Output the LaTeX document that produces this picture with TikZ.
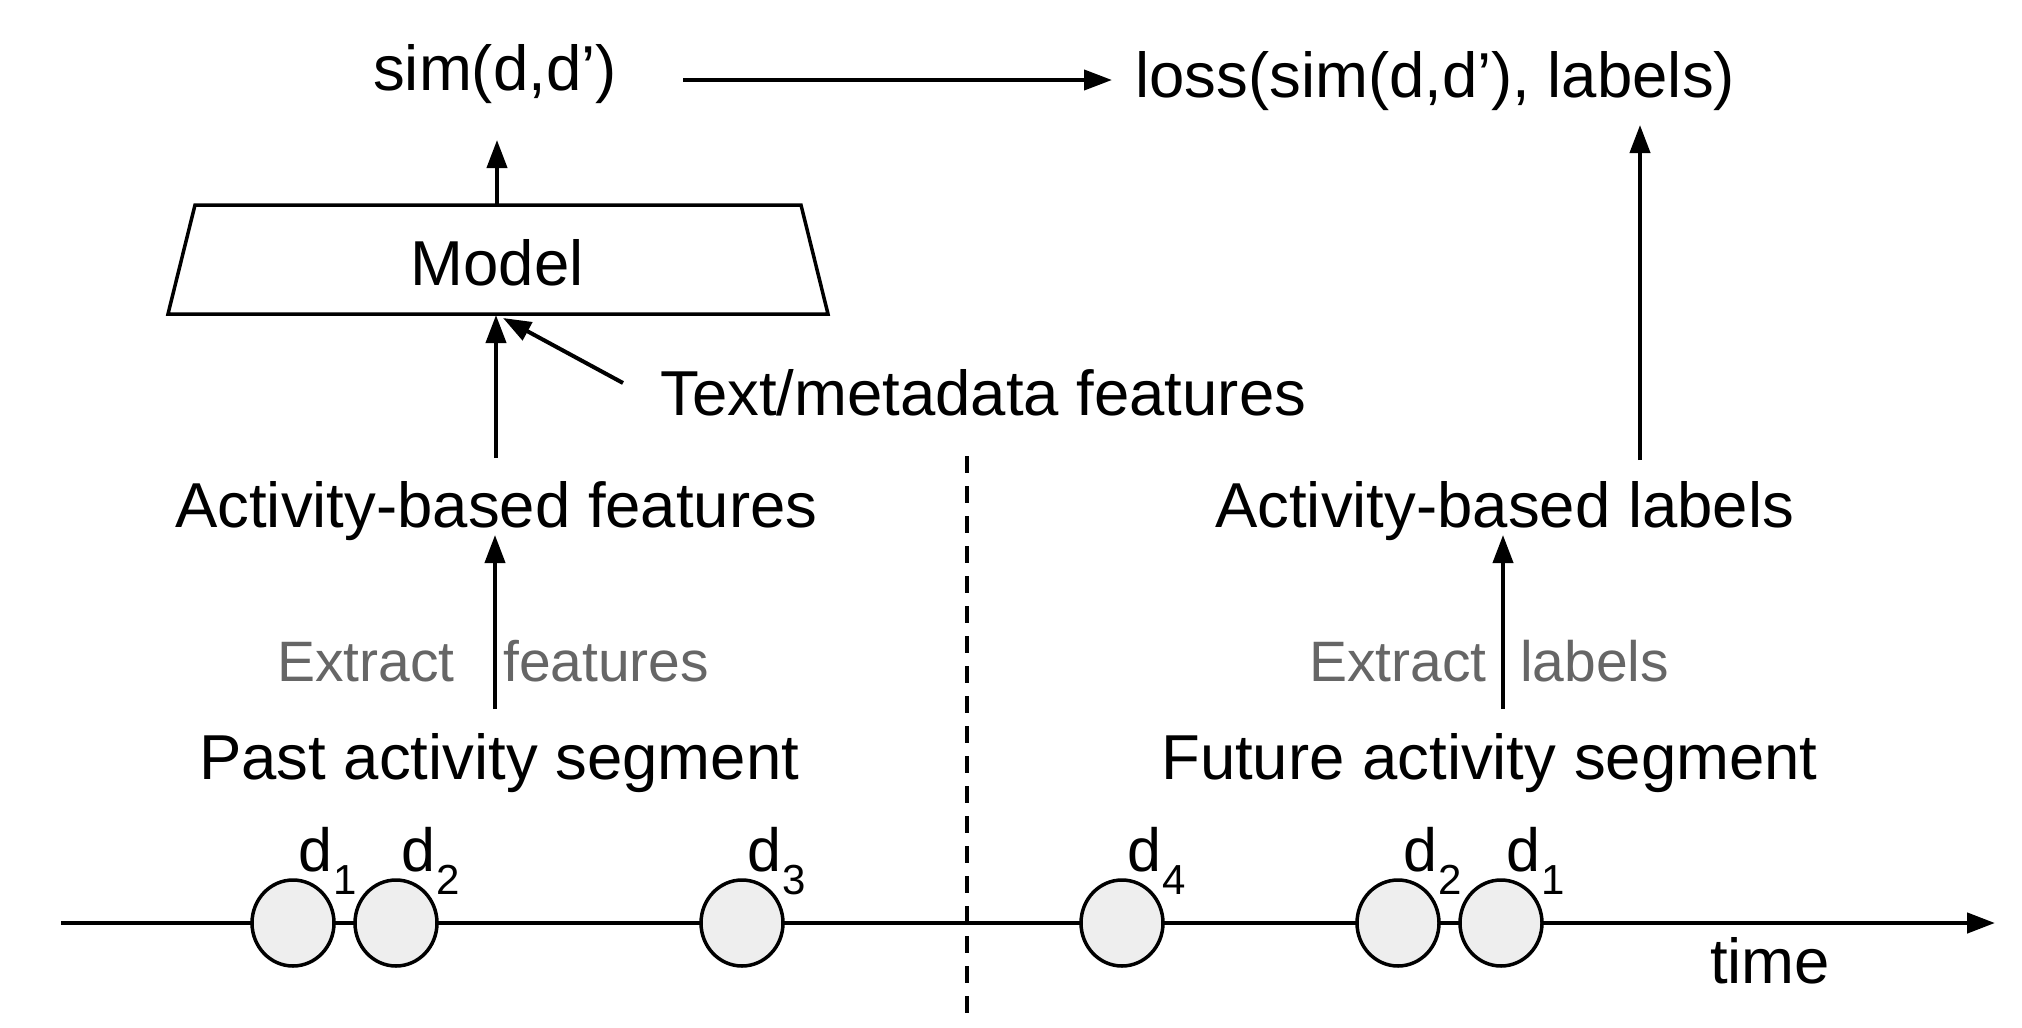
\documentclass[tikz,border=0pt]{standalone}
\usepackage{fontspec}
\setmainfont{Liberation Sans}
\usetikzlibrary{arrows.meta,shapes.geometric}
\definecolor{txtgray}{HTML}{666666}
\definecolor{dotfill}{HTML}{EEEEEE}
\newcommand\bigtxt{\fontsize{63.5}{70}\selectfont}
\newcommand\graytxt{\fontsize{57}{64}\selectfont}
\newcommand\subtxt{\fontsize{42}{46}\selectfont}
\newcommand\dlab[1]{{\fontsize{61}{68}\selectfont d}\kern1pt\raisebox{-23pt}{\subtxt #1}}
\begin{document}
\begin{tikzpicture}[x=1pt,y=-1pt,
  lbl/.style={inner sep=0pt, anchor=base west, font=\bigtxt},
  glbl/.style={inner sep=0pt, anchor=base west, font=\graytxt, text=txtgray},
  arr/.style={-{Triangle[length=28pt,width=20pt]}, line width=4pt},
  docnode/.style={draw, ellipse, line width=3.5pt, fill=dotfill, minimum width=82pt, minimum height=86pt, inner sep=0pt}]
\useasboundingbox (0,0) rectangle (2022,1028);
\fill[white] (0,0) rectangle (2022,1028);

% top row
\node[lbl] (sim) at (373,90) {sim(d,d’)};
\node[lbl] (loss) at (1135,97) {loss(sim(d,d’), labels)};
\coordinate (s1) at (683,80);
\coordinate (s2) at (1112,80);
\draw[arr] (s1) -- (s2);

% model
\draw[line width=3.5pt, line join=miter] (195,205) -- (801,205) -- (828,314) -- (168,314) -- cycle;
\node[inner sep=0pt, anchor=base, font=\bigtxt] (model) at (497,285) {Model};
\coordinate (mtop) at (497,205);
\coordinate (simin) at (497,140);
\draw[arr] (mtop) -- (simin);

\node[lbl] (meta) at (660,415) {Text/metadata features};
\node[lbl] (abf) at (175,527) {Activity-based features};
\node[lbl] (abl) at (1215,527) {Activity-based labels};

\coordinate (abftop) at (496,458);
\coordinate (mbot) at (496,315);
\draw[arr] (abftop) -- (mbot);
\coordinate (metaw) at (623,383);
\coordinate (mbot2) at (503,318);
\draw[arr] (metaw) -- (mbot2);

% extract labels
\node[glbl] (ex1) at (277,681) {Extract};
\node[glbl] (fe1) at (503,681) {features};
\node[glbl] (ex2) at (1309,681) {Extract};
\node[glbl] (la2) at (1520,681) {labels};

\node[lbl] (past) at (199,779) {Past activity segment};
\node[lbl] (future) at (1161,779) {Future activity segment};

\coordinate (pasttop) at (495,709);
\coordinate (abfbot) at (495,535);
\draw[arr] (pasttop) -- (abfbot);
\coordinate (futtop) at (1503,709);
\coordinate (ablbot) at (1503,535);
\draw[arr] (futtop) -- (ablbot);
\coordinate (abltop) at (1640,460);
\coordinate (lossbot) at (1640,125);
\draw[arr] (abltop) -- (lossbot);

% divider
\coordinate (dtop) at (967,456);
\coordinate (dbot) at (967,1024);
\draw[line width=3.5pt, dash pattern=on 17pt off 13pt] (dtop) -- (dbot);

% timeline
\coordinate (t0) at (61,923);
\coordinate (t1) at (1995,923);
\draw[arr, line width=4.5pt] (t0) -- (t1);
\foreach \n/\x/\l in {c1/293/1, c2/396/2, c3/742/3, c4/1122/4, c5/1398/2, c6/1501/1} {
  \node[docnode] (\n) at (\x,923) {};
  \node[inner sep=0pt, anchor=base west] (l\n) at (\x+5,871) {\dlab{\l}};
}
\node[lbl] (time) at (1710,983) {time};
\end{tikzpicture}
\end{document}
